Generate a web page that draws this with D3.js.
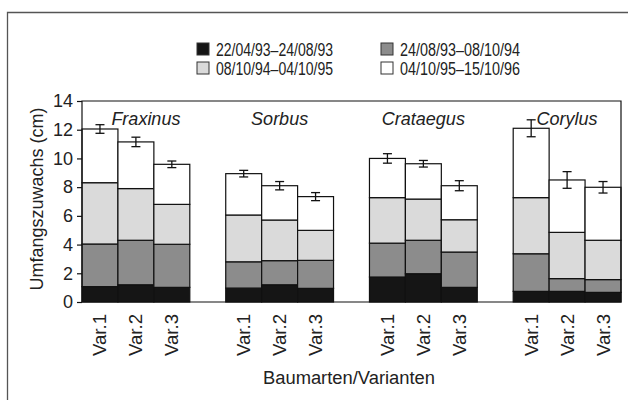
<!DOCTYPE html>
<html><head><meta charset="utf-8">
<script src="https://cdn.jsdelivr.net/npm/d3@7"></script>
<style>body{margin:0;background:#fff}svg{display:block}text{font-family:"Liberation Sans",Arial,sans-serif;fill:#222}</style>
</head><body><svg id="c" width="628" height="400"></svg>
<script>
const species = ["Fraxinus","Sorbus","Crataegus","Corylus"];
const variants = ["Var.1","Var.2","Var.3"];
const periods = ["22/04/93–24/08/93","24/08/93–08/10/94","08/10/94–04/10/95","04/10/95–15/10/96"];
// increment of each period, per species × variant
const seg1 = [[1.07,1.2,1.02],[0.97,1.2,0.95],[1.74,1.97,1.02],[0.74,0.74,0.67]];
const seg2 = [[2.97,3.1,3.0],[1.83,1.68,1.95],[2.36,2.33,2.46],[2.62,0.89,0.89]];
const seg3 = [[4.27,3.6,2.78],[3.26,2.83,2.09],[3.17,2.87,2.25],[3.91,3.22,2.74]];
const seg4 = [[3.74,3.25,2.79],[2.88,2.39,2.35],[2.73,2.46,2.37],[4.83,3.65,3.69]];
const errs = [[0.3,0.33,0.23],[0.23,0.29,0.28],[0.33,0.23,0.35],[0.59,0.58,0.4]];
const yTicks = [0,2,4,6,8,10,12,14];

const colors = ["#151515","#8c8c8c","#dadada","#ffffff"];
const svg = d3.select("#c");
const L=82,R=621,T=101,B=302;
// outer frame (cropped)
svg.append("path").attr("d","M7.5,402V12.5H630").attr("fill","none").attr("stroke","#555").attr("stroke-width",1.3);

const slots=[];
species.forEach((s,i)=>{variants.forEach((v,j)=>slots.push(s+"|"+v)); if(i<species.length-1) slots.push("gap"+i);});
const x = d3.scaleBand().domain(slots).range([L,R]).padding(0);
const y = d3.scaleLinear().domain([0,14]).range([B,T]);

const segs=[seg1,seg2,seg3,seg4];
const rows=[];
species.forEach((s,i)=>variants.forEach((v,j)=>{
  let acc=0; const r={key:s+"|"+v,parts:[]};
  segs.forEach((sg,k)=>{r.parts.push({k,y0:acc,y1:acc+sg[i][j]}); acc+=sg[i][j];});
  r.total=acc; r.err=errs[i][j]; rows.push(r);
}));

const g=svg.append("g");
rows.forEach(r=>{
  r.parts.forEach(p=>{
    g.append("rect").attr("x",x(r.key)).attr("width",x.bandwidth())
     .attr("y",y(p.y1)).attr("height",y(p.y0)-y(p.y1))
     .attr("fill",colors[p.k]).attr("stroke","#111").attr("stroke-width",1.2);
  });
  const cx=x(r.key)+x.bandwidth()/2;
  const e=svg.append("g").attr("stroke","#111").attr("stroke-width",1.3);
  e.append("line").attr("x1",cx).attr("x2",cx).attr("y1",y(r.total-r.err)).attr("y2",y(r.total+r.err));
  [r.total-r.err,r.total+r.err].forEach(vv=>e.append("line").attr("x1",cx-4.5).attr("x2",cx+4.5).attr("y1",y(vv)).attr("y2",y(vv)));
});

// plot frame
svg.append("path").attr("d",`M${L},${B}V${T}H${R}V${B}H${L}`).attr("fill","none").attr("stroke","#111").attr("stroke-width",1.2);

// y axis
const ya=svg.append("g").attr("transform",`translate(${L},0)`).call(d3.axisLeft(y).tickValues(yTicks).tickSize(5).tickPadding(4));
ya.select(".domain").remove();
ya.selectAll("line").attr("stroke","#111").attr("stroke-width",1.2);
ya.selectAll("text").style("font-size","18px").style("font-family","'Liberation Sans',sans-serif").attr("fill","#222");

// x tick labels
rows.forEach(r=>{
  const cx=x(r.key)+x.bandwidth()/2;
  svg.append("text").attr("transform",`translate(${cx+6.5},314) rotate(-90)`).attr("text-anchor","end")
   .style("font-size","18px").attr("textLength",42).attr("lengthAdjust","spacingAndGlyphs").text(r.key.split("|")[1]);
});

// species labels
species.forEach((s,i)=>{
  const x0=x(s+"|Var.1"), x1=x(s+"|Var.3")+x.bandwidth();
  const shift = i===0 ? 10 : 0;
  svg.append("text").attr("x",(x0+x1)/2+shift).attr("y",125).attr("text-anchor","middle")
   .style("font-size","18px").style("font-style","italic").text(s);
});

// axis titles
svg.append("text").attr("transform","translate(43,199) rotate(-90)").attr("text-anchor","middle").style("font-size","18px")
  .attr("textLength",183).attr("lengthAdjust","spacingAndGlyphs").text("Umfangszuwachs (cm)");
svg.append("text").attr("x",349).attr("y",384).attr("text-anchor","middle").style("font-size","18px")
  .attr("textLength",172).attr("lengthAdjust","spacingAndGlyphs").text("Baumarten/Varianten");

// legend
const lx=[197,381], ly=[49,68], lw=[117,120];
periods.forEach((p,i)=>{
  const col=i%2,row=Math.floor(i/2);
  svg.append("rect").attr("x",lx[col]).attr("y",ly[row]-6).attr("width",12).attr("height",12)
    .attr("fill",colors[i]).attr("stroke","#333").attr("stroke-width",1);
  svg.append("text").attr("x",lx[col]+19).attr("y",ly[row]+6.5).style("font-size","18px")
    .attr("textLength",lw[col]).attr("lengthAdjust","spacingAndGlyphs").text(p);
});
</script></body></html>
